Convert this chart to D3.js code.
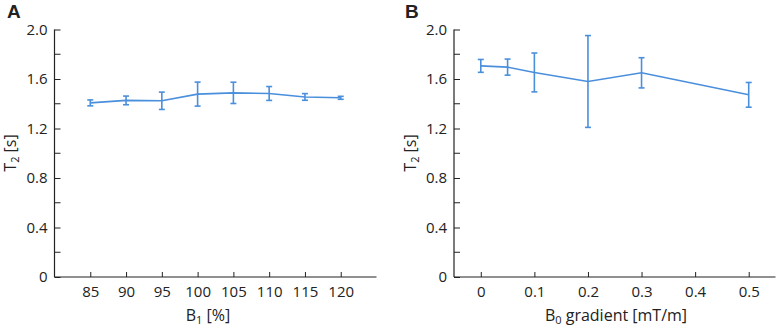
<!DOCTYPE html>
<html>
<head>
<meta charset="utf-8">
<script src="https://cdn.jsdelivr.net/npm/d3@7"></script>
<style>
  body { margin: 0; background: #fff; }
  svg text { font-family: "Open Sans", "Noto Sans", sans-serif; fill: #222; }
</style>
</head>
<body>
<svg id="chart" width="777" height="329"></svg>
<script>
// panel A: T2 vs B1
const b1 = [85, 90, 95, 100, 105, 110, 115, 120];
const t2A = [1.407, 1.427, 1.424, 1.478, 1.488, 1.483, 1.455, 1.448];
const errA = [0.024, 0.035, 0.07, 0.097, 0.086, 0.056, 0.027, 0.012];
const ticksA = [85, 90, 95, 100, 105, 110, 115, 120];

// panel B: T2 vs B0 gradient
const grad = [0, 0.05, 0.1, 0.2, 0.3, 0.5];
const t2B = [1.706, 1.696, 1.653, 1.580, 1.650, 1.472];
const errB = [0.052, 0.065, 0.157, 0.371, 0.122, 0.1];
const ticksB = [0, 0.1, 0.2, 0.3, 0.4, 0.5];

const yTicks = [0, 0.4, 0.8, 1.2, 1.6, 2.0];
const yMinor = [0.2, 0.6, 1.0, 1.4, 1.8];

const blue = "#4a8fdc";
const svg = d3.select("#chart");

function panel(opt) {
  const x = d3.scaleLinear().domain(opt.xDomain).range(opt.xRange);
  const y = d3.scaleLinear().domain([0, 2]).range([277, 29.5]);
  const g = svg.append("g");

  // y axis, ticks inside
  const yAxis = d3.axisRight(y).tickValues(yTicks).tickSize(6).tickFormat(d => d === 0 ? "0" : d3.format(".1f")(d));
  const ya = g.append("g").attr("transform", `translate(${opt.xRange[0]},0)`).call(yAxis);
  ya.selectAll(".tick text").attr("x", -7).attr("text-anchor", "end").attr("font-size", 15);
  ya.append("g").selectAll("line").data(yMinor).join("line")
    .attr("x1", 0).attr("x2", 6).attr("y1", d => y(d)).attr("y2", d => y(d));

  // x axis
  const xAxis = d3.axisTop(x).tickValues(opt.ticks).tickSize(5).tickFormat(opt.fmt);
  const xa = g.append("g").attr("transform", "translate(0,277)").call(xAxis);
  xa.selectAll(".tick text").attr("y", 15).attr("dy", "0.32em").attr("font-size", 15);

  [ya, xa].forEach(a => {
    a.select(".domain").attr("stroke", "#222").attr("stroke-width", 1.2);
    a.selectAll("line").attr("stroke", "#222");
    a.selectAll(".tick text").attr("fill", "#222");
    a.attr("font-family", null);
  });
  ya.select(".domain").attr("d", `M0,${y(2)}V${y(0)}`);
  xa.select(".domain").attr("d", `M${opt.xRange[0]},0H${opt.xRange[1]}`);

  // line
  const pts = opt.xs.map((d, i) => ({ x: d, y: opt.ys[i], e: opt.errs[i] }));
  g.append("path").datum(pts)
    .attr("fill", "none").attr("stroke", blue).attr("stroke-width", 1.6)
    .attr("d", d3.line().x(d => x(d.x)).y(d => y(d.y)));

  // error bars
  const eb = g.append("g").attr("stroke", blue).attr("stroke-width", 1.6);
  eb.selectAll("line.v").data(pts).join("line").attr("class", "v")
    .attr("x1", d => x(d.x)).attr("x2", d => x(d.x))
    .attr("y1", d => y(d.y - d.e)).attr("y2", d => y(d.y + d.e));
  eb.selectAll("line.t").data(pts).join("line").attr("class", "t")
    .attr("x1", d => x(d.x) - 3).attr("x2", d => x(d.x) + 3)
    .attr("y1", d => y(d.y + d.e)).attr("y2", d => y(d.y + d.e));
  eb.selectAll("line.b").data(pts).join("line").attr("class", "b")
    .attr("x1", d => x(d.x) - 3).attr("x2", d => x(d.x) + 3)
    .attr("y1", d => y(d.y - d.e)).attr("y2", d => y(d.y - d.e));

  // titles
  const xt = g.append("text").attr("x", opt.xTitleX).attr("y", 321).attr("text-anchor", "middle").attr("font-size", 16);
  xt.append("tspan").text("B");
  xt.append("tspan").attr("font-size", 11).attr("dy", 3).text(opt.sub);
  xt.append("tspan").attr("dy", -3).text(opt.xTitle);

  const yt = g.append("text").attr("transform", `translate(${opt.yTitleX},153) rotate(-90)`).attr("text-anchor", "middle").attr("font-size", 16);
  yt.append("tspan").text("T");
  yt.append("tspan").attr("font-size", 11).attr("dy", 3).text("2");
  yt.append("tspan").attr("dy", -3).text(" [s]");

  g.append("text").attr("x", opt.labelX).attr("y", 18).attr("font-size", 19).attr("font-weight", "bold")
    .style("font-family", "Liberation Sans, Arial, sans-serif").text(opt.label);
}

panel({
  xs: b1, ys: t2A, errs: errA, ticks: ticksA, fmt: d3.format("d"),
  xDomain: [80, 125], xRange: [54.5, 376.5],
  xTitle: " [%]", sub: "1", xTitleX: 208, yTitleX: 16, label: "A", labelX: 7
});

panel({
  xs: grad, ys: t2B, errs: errB, ticks: ticksB, fmt: d => d === 0 ? "0" : d3.format(".1f")(d),
  xDomain: [-0.05, 0.55], xRange: [454, 775.5],
  xTitle: " gradient [mT/m]", sub: "0", xTitleX: 616, yTitleX: 416, label: "B", labelX: 405
});
</script>
</body>
</html>
